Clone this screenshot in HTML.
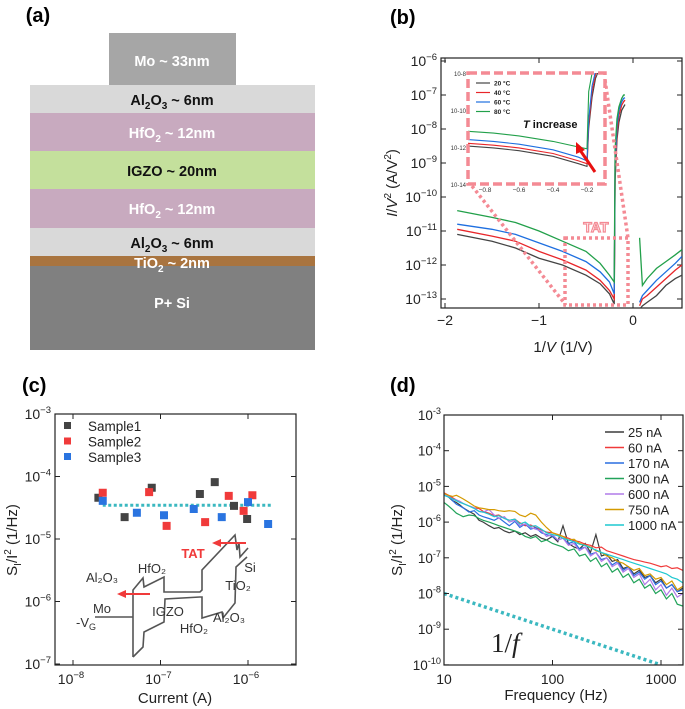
<!DOCTYPE html>
<html><head><meta charset="utf-8"><style>
html,body{margin:0;padding:0;background:#fff;}
svg{display:block;font-family:"Liberation Sans",Arial,sans-serif;}
</style></head><body>
<svg id="fig" width="685" height="709" viewBox="0 0 685 709" xmlns="http://www.w3.org/2000/svg">
<g font-weight="bold" font-size="14.5" text-anchor="middle">
<text x="38" y="22" font-size="20">(a)</text>
<rect x="109" y="33" width="127" height="52" fill="#a6a6a6"/>
<text x="172" y="66" fill="#fff">Mo ~ 33nm</text>
<rect x="30" y="85" width="285" height="28" fill="#d9d9d9"/>
<text x="172" y="105" fill="#111">Al<tspan font-size="10" dy="4">2</tspan><tspan dy="-4">O</tspan><tspan font-size="10" dy="4">3</tspan><tspan dy="-4"> ~ 6nm</tspan></text>
<rect x="30" y="113" width="285" height="38" fill="#c8aabf"/>
<text x="172" y="138" fill="#fff">HfO<tspan font-size="10" dy="4">2</tspan><tspan dy="-4"> ~ 12nm</tspan></text>
<rect x="30" y="151" width="285" height="38" fill="#c4e09c"/>
<text x="172" y="176" fill="#111">IGZO ~ 20nm</text>
<rect x="30" y="189" width="285" height="39" fill="#c8aabf"/>
<text x="172" y="214" fill="#fff">HfO<tspan font-size="10" dy="4">2</tspan><tspan dy="-4"> ~ 12nm</tspan></text>
<rect x="30" y="228" width="285" height="28" fill="#d9d9d9"/>
<text x="172" y="248" fill="#111">Al<tspan font-size="10" dy="4">2</tspan><tspan dy="-4">O</tspan><tspan font-size="10" dy="4">3</tspan><tspan dy="-4"> ~ 6nm</tspan></text>
<rect x="30" y="256" width="285" height="10" fill="#a9743f"/>
<rect x="30" y="266" width="285" height="84" fill="#808080"/>
<text x="172" y="268" fill="#fff">TiO<tspan font-size="10" dy="4">2</tspan><tspan dy="-4"> ~ 2nm</tspan></text>
<text x="172" y="308" fill="#fff">P+ Si</text>
</g>
<text x="390" y="24" font-size="20" font-weight="bold">(b)</text>
<text x="22" y="392" font-size="20" font-weight="bold">(c)</text>
<text x="390" y="392" font-size="20" font-weight="bold">(d)</text>
<g id="pb"></g>
<g id="pc"></g>
<g id="pd"></g>
</svg>
<script>
// ===== Panel b data =====
const bTemps = ["20 °C","40 °C","60 °C","80 °C"];
const bColors = ["#444444","#e8262a","#1e6fe0","#22a04a"];
const bLeftX = [-1.87,-1.5,-1.25,-1.0,-0.75,-0.5,-0.35,-0.25,-0.2,-0.19,-0.17,-0.15,-0.12,-0.1,-0.085];
const bLeft20 = [-11.1,-11.3,-11.5,-11.8,-12.0,-12.3,-12.55,-12.85,-13.15,-9.5,-8.3,-7.8,-7.45,-7.35,-7.28];
const bLeft40 = [-10.95,-11.15,-11.3,-11.6,-11.85,-12.15,-12.45,-12.75,-13.0,-9.3,-8.1,-7.6,-7.3,-7.2,-7.15];
const bLeft60 = [-10.8,-10.95,-11.1,-11.35,-11.6,-11.9,-12.2,-12.5,-12.85,-9.0,-7.9,-7.45,-7.2,-7.1,-7.08];
const bLeft80 = [-10.4,-10.6,-10.75,-11.0,-11.3,-11.6,-11.95,-12.3,-12.5,-8.6,-7.7,-7.35,-7.1,-7.0,-7.0];
const bRightX = [0.07,0.1,0.15,0.25,0.35,0.45,0.52];
const bRight20 = [-13.3,-13.2,-13.1,-12.9,-12.6,-12.4,-12.3];
const bRight40 = [-13.2,-13.0,-12.9,-12.65,-12.4,-12.15,-12.0];
const bRight60 = [-13.1,-12.9,-12.75,-12.45,-12.2,-11.95,-11.75];
const bRight80 = [-11.2,-12.6,-12.4,-12.1,-11.9,-11.7,-11.55];
const bXTicks = [-2,-1,0];
const bYTicks = [-6,-7,-8,-9,-10,-11,-12,-13];
const inX = [-0.9,-0.75,-0.6,-0.4,-0.25,-0.2,-0.19,-0.17,-0.15,-0.12];
const in20 = [-11.95,-12.05,-12.2,-12.5,-12.9,-13.05,-11.0,-9.3,-8.3,-7.6];
const in40 = [-11.8,-11.9,-12.05,-12.35,-12.75,-12.9,-10.8,-9.0,-8.1,-7.5];
const in60 = [-11.6,-11.7,-11.85,-12.15,-12.55,-12.75,-10.5,-8.7,-7.9,-7.4];
const in80 = [-11.15,-11.25,-11.4,-11.7,-12.0,-12.1,-9.0,-8.0,-7.5,-7.2];
const inXTicks = [-0.8,-0.6,-0.4,-0.2];
const inYTicks = [-8,-10,-12,-14];

// ===== Panel c data =====
const cS1x = [-7.71,-7.41,-7.10,-6.55,-6.38,-6.16,-6.01];
const cS1y = [-4.34,-4.65,-4.18,-4.28,-4.09,-4.47,-4.68];
const cS2x = [-7.66,-7.13,-6.93,-6.49,-6.22,-6.05,-5.95];
const cS2y = [-4.26,-4.25,-4.79,-4.73,-4.31,-4.55,-4.30];
const cS3x = [-7.66,-7.27,-6.96,-6.62,-6.30,-6.00,-5.77];
const cS3y = [-4.39,-4.58,-4.62,-4.52,-4.65,-4.41,-4.76];
const cAvg = -4.46;
const cXTicks = [-8,-7,-6];
const cYTicks = [-3,-4,-5,-6,-7];

// ===== Panel d data =====
const dFreq = [10,11,12,13,14,15,17,19,21,23,26,29,32,36,40,45,50,56,63,70,79,88,100,112,125,140,158,177,200,224,251,282,316,355,398,447,501,562,631,708,794,891,1000,1122,1259,1413,1585];
const d25 = [-5.20,-5.30,-5.40,-5.45,-5.52,-5.60,-5.70,-5.78,-5.95,-6.00,-6.10,-6.18,-6.15,-6.25,-6.30,-6.25,-6.35,-6.30,-6.40,-6.35,-6.45,-6.50,-6.40,-6.55,-6.10,-6.60,-6.70,-6.75,-6.60,-6.85,-6.35,-6.95,-6.90,-7.10,-7.05,-7.30,-7.25,-7.45,-7.35,-7.55,-7.50,-7.70,-7.60,-7.85,-7.75,-7.95,-7.85];
const d60 = [-5.18,-5.25,-5.32,-5.38,-5.42,-5.48,-5.55,-5.60,-5.62,-5.70,-5.75,-5.82,-5.80,-5.90,-5.95,-5.92,-6.02,-6.10,-6.08,-6.15,-6.22,-6.28,-6.30,-6.35,-6.40,-6.45,-6.52,-6.55,-6.62,-6.65,-6.72,-6.70,-6.80,-6.85,-6.90,-6.95,-7.00,-7.05,-7.08,-7.12,-7.15,-7.20,-7.25,-7.22,-7.30,-7.28,-7.35];
const d170 = [-5.20,-5.28,-5.40,-5.50,-5.55,-5.60,-5.72,-5.68,-5.80,-5.85,-5.90,-5.95,-5.88,-6.00,-6.10,-5.98,-6.15,-6.05,-6.20,-6.15,-6.30,-6.35,-6.40,-6.50,-6.45,-6.60,-6.55,-6.75,-6.70,-6.90,-6.85,-7.05,-7.00,-7.20,-7.10,-7.35,-7.25,-7.50,-7.40,-7.60,-7.50,-7.75,-7.65,-7.85,-7.75,-7.95,-7.90];
const d300 = [-5.45,-5.55,-5.65,-5.75,-5.80,-5.85,-5.80,-5.82,-5.90,-5.95,-6.00,-6.05,-6.10,-6.15,-6.20,-6.25,-6.30,-6.40,-6.45,-6.40,-6.55,-6.50,-6.60,-6.65,-6.70,-6.80,-6.75,-6.95,-6.90,-7.10,-7.00,-7.25,-7.15,-7.40,-7.30,-7.55,-7.45,-7.70,-7.60,-7.85,-7.75,-8.00,-7.90,-8.15,-8.00,-8.30,-8.35];
const d600 = [-5.22,-5.28,-5.35,-5.38,-5.42,-5.48,-5.55,-5.60,-5.70,-5.72,-5.65,-5.80,-5.90,-5.85,-6.00,-5.95,-6.10,-6.05,-6.15,-6.20,-6.25,-6.40,-6.35,-6.50,-6.45,-6.65,-6.60,-6.80,-6.70,-6.95,-6.85,-7.10,-7.00,-7.25,-7.15,-7.40,-7.30,-7.55,-7.45,-7.75,-7.60,-7.90,-7.75,-8.05,-7.85,-8.10,-8.00];
const d750 = [-5.20,-5.25,-5.28,-5.25,-5.30,-5.35,-5.45,-5.55,-5.60,-5.62,-5.65,-5.65,-5.68,-5.70,-5.68,-5.70,-5.80,-5.85,-5.75,-5.80,-6.00,-6.15,-6.30,-6.35,-6.40,-6.50,-6.48,-6.60,-6.65,-6.70,-6.80,-6.85,-6.95,-7.00,-7.10,-7.15,-7.25,-7.35,-7.30,-7.50,-7.45,-7.60,-7.55,-7.75,-7.65,-7.90,-7.80];
const d1000 = [-5.25,-5.30,-5.35,-5.40,-5.45,-5.48,-5.55,-5.62,-5.70,-5.72,-5.78,-5.85,-5.82,-5.90,-5.95,-5.92,-6.05,-6.00,-6.12,-6.10,-6.20,-6.30,-6.35,-6.38,-6.45,-6.50,-6.55,-6.62,-6.65,-6.72,-6.78,-6.85,-6.90,-6.95,-7.00,-7.05,-7.10,-7.15,-7.20,-7.25,-7.30,-7.35,-7.40,-7.45,-7.55,-7.60,-7.70];
const dLabels = ["25 nA","60 nA","170 nA","300 nA","600 nA","750 nA","1000 nA"];
const dColors = ["#3c3c3c","#f03a3a","#2a6fe0","#22a35a","#b07be8","#d49a00","#1fc8d0"];
const dRefF = [10,1000];
const dRefY = [-8,-10];
const dXTicks = [10,100,1000];
const dYTicks = [-3,-4,-5,-6,-7,-8,-9,-10];

const NS = "http://www.w3.org/2000/svg";
function mk(parent, tag, attrs){const e=document.createElementNS(NS,tag);for(const k in attrs)e.setAttribute(k,attrs[k]);parent.appendChild(e);return e;}
function pathD(xs,ys,fx,fy){return xs.map((x,i)=>(i?"L":"M")+fx(x).toFixed(1)+","+fy(ys[i]).toFixed(1)).join("");}
function powLabel(g,x,y,base,exp,size,anchor){const t=mk(g,"text",{x:x,y:y,"font-size":size,"text-anchor":anchor||"end",fill:"#222"});const a=document.createElementNS(NS,"tspan");a.textContent=base;t.appendChild(a);const b=document.createElementNS(NS,"tspan");b.setAttribute("dy",-6);b.setAttribute("font-size",size*0.68);b.textContent=exp;t.appendChild(b);return t;}

// ===== Panel b =====
(function(){
const g=document.getElementById("pb");
const L=441,R=682,T=58,B=308;
const x=v=>633+v*94, y=v=>61+(-6-v)*34;
const clip=mk(g,"clipPath",{id:"cb"});mk(clip,"rect",{x:L,y:T,width:R-L,height:B-T});
const frame=mk(g,"rect",{x:L,y:T,width:R-L,height:B-T,fill:"none",stroke:"#222","stroke-width":1.2});

bXTicks.forEach(v=>{mk(g,"line",{x1:x(v),x2:x(v),y1:B,y2:B-5,stroke:"#222"});mk(g,"line",{x1:x(v),x2:x(v),y1:T,y2:T+5,stroke:"#222"});
 const t=mk(g,"text",{x:x(v),y:B+17,"font-size":14,"text-anchor":"middle",fill:"#222"});t.textContent=(v<0?"\u2212"+(-v):v);});
bYTicks.forEach(v=>{mk(g,"line",{x1:L,x2:L+5,y1:y(v),y2:y(v),stroke:"#222"});mk(g,"line",{x1:R,x2:R-5,y1:y(v),y2:y(v),stroke:"#222"});powLabel(g,L-4,y(v)+5,"10",String(v).replace("-","\u2212"),14);});
const cg=mk(g,"g",{"clip-path":"url(#cb)"});
const lefts=[bLeft20,bLeft40,bLeft60,bLeft80], rights=[bRight20,bRight40,bRight60,bRight80];
lefts.forEach((s,i)=>{const p=mk(cg,"path",{d:pathD(bLeftX,s,x,y),fill:"none",stroke:bColors[i],"stroke-width":1.3});
 const q=mk(cg,"path",{d:pathD(bRightX,rights[i],x,y),fill:"none",stroke:bColors[i],"stroke-width":1.3});});
const pk="#f48a94";
const box=mk(g,"rect",{x:565,y:238,width:63,height:67,fill:"none",stroke:pk,"stroke-width":3.5,"stroke-dasharray":"3 3"});
mk(g,"line",{x1:472,y1:186,x2:565,y2:304,stroke:pk,"stroke-width":3.5,"stroke-dasharray":"3 3"});
mk(g,"line",{x1:605,y1:80,x2:628,y2:238,stroke:pk,"stroke-width":3.5,"stroke-dasharray":"3 3"});
const tat=mk(g,"text",{x:596,y:232,"font-size":14,"font-weight":"bold","text-anchor":"middle",fill:"#fff",stroke:pk,"stroke-width":1.2});tat.textContent="TAT";
const iL=468,iR=605,iT=73,iB=184;
const ix=v=>587+(v+0.2)*170, iy=v=>iT+(-8-v)*18.5;
mk(g,"rect",{x:iL,y:iT,width:iR-iL,height:iB-iT,fill:"#fff"});
const ic=mk(g,"clipPath",{id:"ci"});mk(ic,"rect",{x:iL,y:iT,width:iR-iL,height:iB-iT});
const icg=mk(g,"g",{"clip-path":"url(#ci)"});
[in20,in40,in60,in80].forEach((s,i)=>{const p=mk(icg,"path",{d:pathD(inX,s,ix,iy),fill:"none",stroke:bColors[i],"stroke-width":1.1});});
const ib=mk(g,"rect",{x:iL,y:iT,width:iR-iL,height:iB-iT,fill:"none",stroke:pk,"stroke-width":3.5,"stroke-dasharray":"9 4"});
inXTicks.forEach(v=>{const t=mk(g,"text",{x:ix(v),y:iB+8,"font-size":6.5,"text-anchor":"middle",fill:"#333"});t.textContent="\u2212"+(-v);});
inYTicks.forEach(v=>{const t=mk(g,"text",{x:iL-2,y:iy(v)+3,"font-size":6,"text-anchor":"end",fill:"#333"});t.textContent="10"+String(v);});
bTemps.forEach((lab,i)=>{const yy=83+i*9.5;mk(g,"line",{x1:476,x2:490,y1:yy,y2:yy,stroke:bColors[i],"stroke-width":1.2});
 const t=mk(g,"text",{x:494,y:yy+2.5,"font-size":6.5,"font-weight":"bold",fill:"#222"});t.textContent=lab;});
const ti=mk(g,"text",{x:523,y:128,"font-size":11,"font-weight":"bold",fill:"#111"});ti.innerHTML='<tspan font-style="italic">T</tspan> increase';
mk(g,"line",{x1:595,y1:172,x2:580,y2:150,stroke:"#e81010","stroke-width":3});
mk(g,"polygon",{points:"576,142 585,150 576,154",fill:"#e81010"});
const yt=mk(g,"text",{transform:"translate(397,183) rotate(-90)","font-size":15,"text-anchor":"middle",fill:"#222"});yt.innerHTML='<tspan font-style="italic">I</tspan>/<tspan font-style="italic">V</tspan><tspan dy="-6" font-size="10">2</tspan><tspan dy="6"> (A/V</tspan><tspan dy="-6" font-size="10">2</tspan><tspan dy="6">)</tspan>';
const xt=mk(g,"text",{x:563,y:352,"font-size":15,"text-anchor":"middle",fill:"#222"});xt.innerHTML='1/<tspan font-style="italic">V</tspan> (1/V)';
})();

// ===== Panel c =====
(function(){
const g=document.getElementById("pc");
const L=55,R=296,T=414,B=665;
const x=v=>73+(v+8)*87.5, y=v=>414+(-3-v)*62.5;
const fr=mk(g,"rect",{x:L,y:T,width:R-L,height:B-T,fill:"none",stroke:"#222","stroke-width":1.2});
cXTicks.forEach(v=>{mk(g,"line",{x1:x(v),x2:x(v),y1:B,y2:B-5,stroke:"#222"});mk(g,"line",{x1:x(v),x2:x(v),y1:T,y2:T+5,stroke:"#222"});powLabel(g,x(v)-2,B+19,"10",String(v).replace("-","\u2212"),14,"middle");});
cYTicks.forEach(v=>{mk(g,"line",{x1:L,x2:L+5,y1:y(v),y2:y(v),stroke:"#222"});mk(g,"line",{x1:R,x2:R-5,y1:y(v),y2:y(v),stroke:"#222"});powLabel(g,L-4,y(v)+5,"10",String(v).replace("-","\u2212"),14);});
const avg=mk(g,"line",{x1:x(-7.66),x2:x(-5.72),y1:y(cAvg),y2:y(cAvg),stroke:"#3bb8c0","stroke-width":3,"stroke-dasharray":"3 2.5"});
const sets=[[cS1x,cS1y,"#444444"],[cS2x,cS2y,"#f03a3a"],[cS3x,cS3y,"#2a74e0"]];
sets.forEach((s,k)=>{s[0].forEach((xv,i)=>{const r=mk(g,"rect",{x:x(xv)-4,y:y(s[1][i])-4,width:8,height:8,fill:s[2]});});
 const ly=426+k*15.5;mk(g,"rect",{x:64,y:ly-4,width:7,height:7,fill:s[2]});
 const t=mk(g,"text",{x:88,y:ly+5,"font-size":13.5,fill:"#222"});t.textContent="Sample"+(k+1);});
const bd=mk(g,"g",{fill:"none",stroke:"#555","stroke-width":1.6});
mk(bd,"polyline",{points:"95,617 133,617"});
mk(bd,"polyline",{points:"133,657 133,590 143,578 144,587 164,577 164,592 200,592 202,590 202,570 235,535 237,550 239,543 240,557 248,548"});
mk(bd,"polyline",{points:"133,657 143,647 144,632 164,622 165,599 200,597 202,597 202,618 222,612 223,618 235,603 236,567 247,557"});
const labs=[["Al\u2082O\u2083",102,582],["HfO\u2082",152,573],["Mo",102,613],["IGZO",168,616],["HfO\u2082",194,633],["Al\u2082O\u2083",229,622],["TiO\u2082",238,590],["Si",250,572]];
labs.forEach(l=>{const t=mk(g,"text",{x:l[1],y:l[2],"font-size":13,"text-anchor":"middle",fill:"#333"});t.textContent=l[0];});
const vg=mk(g,"text",{x:76,y:627,"font-size":13,fill:"#333"});vg.innerHTML='-V<tspan font-size="9" dy="3">G</tspan>';
const tt=mk(g,"text",{x:193,y:558,"font-size":13,"font-weight":"bold","text-anchor":"middle",fill:"#f03a3a"});tt.textContent="TAT";
mk(g,"line",{x1:246,y1:543,x2:219,y2:543,stroke:"#f03a3a","stroke-width":2});mk(g,"polygon",{points:"212,543 221,539 221,547",fill:"#f03a3a"});
mk(g,"line",{x1:150,y1:594,x2:124,y2:594,stroke:"#f03a3a","stroke-width":2});mk(g,"polygon",{points:"117,594 126,590 126,598",fill:"#f03a3a"});
const yt=mk(g,"text",{transform:"translate(17,540) rotate(-90)","font-size":15,"text-anchor":"middle",fill:"#222"});yt.innerHTML='S<tspan font-size="10" dy="4">I</tspan><tspan dy="-4">/I</tspan><tspan dy="-6" font-size="10">2</tspan><tspan dy="6"> (1/Hz)</tspan>';
const xt=mk(g,"text",{x:175,y:703,"font-size":15,"text-anchor":"middle",fill:"#222"});xt.textContent="Current (A)";
})();

// ===== Panel d =====
(function(){
const g=document.getElementById("pd");
const L=444,R=683,T=415,B=665;
const x=v=>444+(Math.log10(v)-1)*108.5, y=v=>415+(-3-v)*35.7;
const cl=mk(g,"clipPath",{id:"cd"});mk(cl,"rect",{x:L,y:T,width:R-L,height:B-T});
const cg=mk(g,"g",{"clip-path":"url(#cd)"});
[d25,d60,d170,d300,d600,d750,d1000].forEach((s,i)=>{const p=mk(cg,"path",{d:pathD(dFreq,s,x,y),fill:"none",stroke:dColors[i],"stroke-width":1.2});});
const rl=mk(cg,"path",{d:pathD(dRefF,dRefY,x,y),stroke:"#3bb8c0","stroke-width":3.5,"stroke-dasharray":"3 3",fill:"none"});
const fr=mk(g,"rect",{x:L,y:T,width:R-L,height:B-T,fill:"none",stroke:"#222","stroke-width":1.2});
dXTicks.forEach(v=>{mk(g,"line",{x1:x(v),x2:x(v),y1:B,y2:B-5,stroke:"#222"});mk(g,"line",{x1:x(v),x2:x(v),y1:T,y2:T+5,stroke:"#222"});const t=mk(g,"text",{x:x(v),y:B+19,"font-size":14,"text-anchor":"middle",fill:"#222"});t.textContent=v;});
dYTicks.forEach(v=>{mk(g,"line",{x1:L,x2:L+5,y1:y(v),y2:y(v),stroke:"#222"});mk(g,"line",{x1:R,x2:R-5,y1:y(v),y2:y(v),stroke:"#222"});powLabel(g,L-3,y(v)+5,"10",String(v),13.5);});
dLabels.forEach((lab,i)=>{const ly=432+i*15.5;mk(g,"line",{x1:605,x2:624,y1:ly,y2:ly,stroke:dColors[i],"stroke-width":1.5});
 const t=mk(g,"text",{x:628,y:ly+5,"font-size":13,fill:"#222"});t.textContent=lab;});
const ft=mk(g,"text",{x:491,y:652,"font-size":27,fill:"#222","font-family":"Liberation Serif,serif"});ft.innerHTML='1/<tspan font-style="italic">f</tspan>';
const yt=mk(g,"text",{transform:"translate(402,540) rotate(-90)","font-size":15,"text-anchor":"middle",fill:"#222"});yt.innerHTML='S<tspan font-size="10" dy="4">I</tspan><tspan dy="-4">/I</tspan><tspan dy="-6" font-size="10">2</tspan><tspan dy="6"> (1/Hz)</tspan>';
const xt=mk(g,"text",{x:556,y:700,"font-size":15,"text-anchor":"middle",fill:"#222"});xt.textContent="Frequency (Hz)";
})();
</script>
</body></html>
